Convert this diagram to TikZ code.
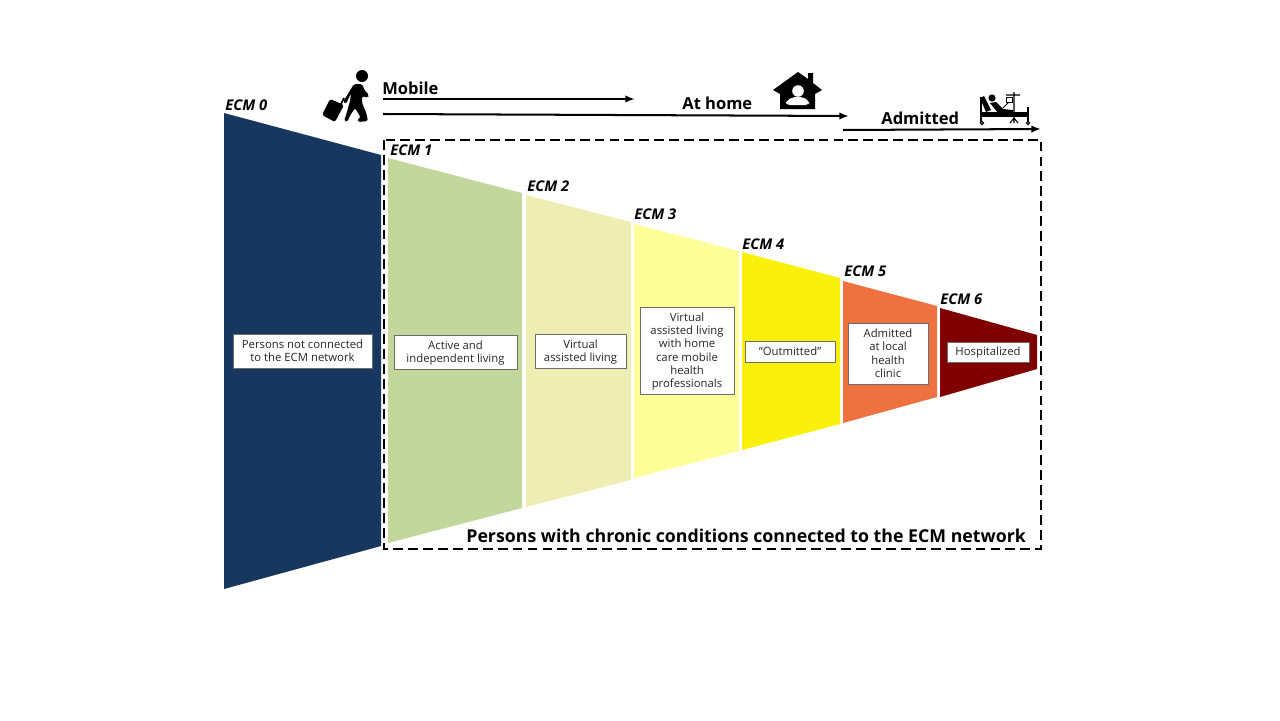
\documentclass[tikz,border=0pt]{standalone}
\usepackage{fontspec}
\setmainfont{Open Sans}
\usepackage{xcolor}
\usetikzlibrary{arrows.meta,positioning,calc}
\definecolor{navyecm}{HTML}{17375E}
\definecolor{greenecm}{HTML}{C3D69B}
\definecolor{paleecm}{HTML}{EEEEB4}
\definecolor{lightecm}{HTML}{FFFF99}
\definecolor{yellowecm}{HTML}{F9F10B}
\definecolor{orangeecm}{HTML}{ED7240}
\definecolor{darkecm}{HTML}{800000}
\tikzset{
  infobox/.style={draw=gray!85!black, line width=0.55pt, fill=white, inner sep=0pt, align=center,
    font=\fontsize{6.45pt}{7.6pt}\selectfont, text=black!85, text depth=0.4pt},
  ecmtag/.style={font=\fontsize{8.4pt}{9pt}\selectfont\bfseries\itshape, anchor=base west, inner sep=0pt},
  steptag/.style={font=\fontsize{9.4pt}{10pt}\selectfont\bfseries, anchor=base west, inner sep=0pt},
  arrowline/.style={line width=1.15pt, -{Latex[length=5.5pt,width=4.2pt]}}
}
\begin{document}
\begin{tikzpicture}[x=0.02cm,y=-0.02cm]
    \useasboundingbox (0,0) rectangle (1280,720);
    % funnel segments: x1/ytop1/ybot1/x2/ytop2/ybot2/colour
    \foreach \xa/\ta/\ba/\xb/\tb/\bb/\col in {
        224/113/589/381/155/546/navyecm,
        388/158/543/522/193/508/greenecm,
        526/195/507/631/222/480/paleecm,
        634/224/478/739/251/451/lightecm,
        742/252/450/840/278/424/yellowecm,
        843/281/423/937/306/397/orangeecm,
        940/308/397/1037/335/369/darkecm} {
        \fill[\col] (\xa,\ta) -- (\xb,\tb) -- (\xb,\bb) -- (\xa,\ba) -- cycle;
    }

    % dashed frame
    \draw[line width=1.45pt, dash pattern=on 5.6pt off 2.9pt] (384,140) rectangle (1041,549);

    % labels inside the segments
    \node[infobox, minimum width=2.78cm, minimum height=0.68cm] (box0) at (302.5,351) {Persons not connected\\to the ECM network};
    \node[infobox, minimum width=2.46cm, minimum height=0.68cm] (box1) at (455.5,352) {Active and\\independent living};
    \node[infobox, minimum width=1.82cm, minimum height=0.68cm] (box2) at (580.5,351) {Virtual\\assisted living};
    \node[infobox, minimum width=1.88cm, minimum height=1.74cm] (box3) at (687,350.5) {Virtual\\assisted living\\with home\\care mobile\\health\\professionals};
    \node[infobox, minimum width=1.80cm, minimum height=0.42cm] (box4) at (790,351.5) {“Outmitted”};
    \node[infobox, minimum width=1.60cm, minimum height=1.22cm] (box5) at (888,353.5) {Admitted\\at local\\health\\clinic};
    \node[infobox, minimum width=1.64cm, minimum height=0.40cm] (box6) at (988,352) {Hospitalized};

    % segment names
    \foreach \tagx/\tagy/\n in {225/110/0, 390/155/1, 527/191/2, 634/219/3, 742/249/4, 844/276/5, 940/304/6} {
        \node[ecmtag] (ecm\n) at (\tagx,\tagy) {ECM \n};
    }

    % top arrows
    \coordinate (mobileA) at (383,99);
    \coordinate (mobileB) at (635,99);
    \coordinate (homeA) at (383,114);
    \coordinate (homeB) at (849,116);
    \coordinate (admitA) at (843,130);
    \coordinate (admitB) at (1041,129);
    \draw[arrowline] (mobileA) -- (mobileB);
    \draw[arrowline] (homeA) -- (homeB);
    \draw[arrowline] (admitA) -- (admitB);
    \node[steptag] (mobile) at (382,94) {Mobile};
    \node[steptag] (athome) at (682,109) {At home};
    \node[steptag] (admitted) at (881,124) {Admitted};
    \node[font=\fontsize{10.1pt}{11pt}\selectfont\bfseries, anchor=base west, inner sep=0pt] (chronic) at (466,542)
        {Persons with chronic conditions connected to the ECM network};

    % walking person with suitcase
    \fill (362,76) circle (6);
    \fill[line join=round, rounded corners=1] (354,84) -- (362,84) -- (365,91) -- (369,95) -- (368,98) -- (362,96) -- (362,103)
        -- (366,112) -- (368,121) -- (358,122) -- (357,119) -- (361,118) -- (355,108) -- (351,114) -- (347,122)
        -- (344,121) -- (347,112) -- (350,101) -- (351,93) -- (346,104) -- (343,102) -- cycle;
    \fill[rounded corners=1] (330,99) -- (344,105) -- (335,122) -- (322,115) -- cycle;
    \draw[line width=1pt] (341,104) -- (344,98);

    % house
    \fill (773,90) -- (798,72) -- (808,79) -- (808,73) -- (813,73) -- (813,83) -- (822,90) -- (815,94)
        -- (815,109) -- (780,109) -- (780,94) -- cycle;
    \fill[white] (798,91) circle (5.8);
    \fill[white, rounded corners=2] (786,105) -- (786,101) -- (793,97) -- (803,97) -- (809,101) -- (809,105) -- cycle;

    % hospital bed
    \draw[line width=0.9pt] (981,97) -- (981,123) (1028,107) -- (1028,123);
    \draw[line width=0.6pt] (1014,92) -- (1014,123) (1010,123) -- (1014,118) -- (1018,123) (1006,95) -- (1020,95);
    \fill (982,112) rectangle (1027,117);
    \fill (980,98) -- (984,96) -- (991,110) -- (986,112) -- cycle;
    \fill (992,98) circle (3.6);
    \fill (990,103) -- (996,102) -- (1003,109) -- (1013,110) -- (1013,112) -- (998,113) -- cycle;
    \draw[line width=0.5pt] (1003,108) -- (1010,101);
    \draw[line width=0.5pt, fill=white] (1006,97) rectangle (1012,102);
    \draw[line width=0.6pt, fill=white] (982,123) circle (1.7) (1028,123) circle (1.7);
\end{tikzpicture}
\end{document}
